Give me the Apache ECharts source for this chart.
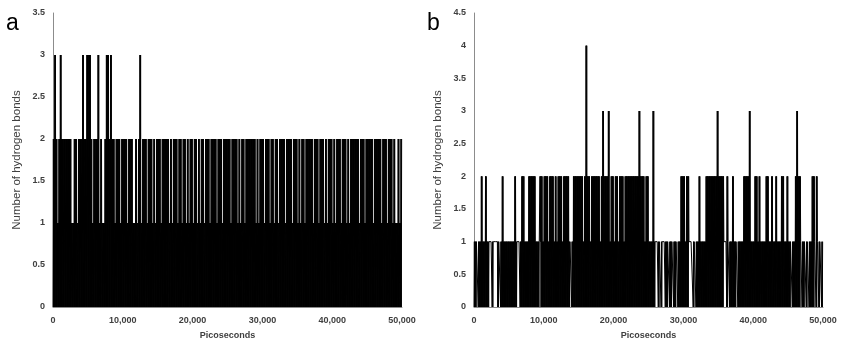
<!DOCTYPE html>
<html><head><meta charset="utf-8">
<script src="https://cdn.jsdelivr.net/npm/echarts@6/dist/echarts.min.js"></script>
<style>html,body{margin:0;padding:0;background:#fff}#c{width:844px;height:346px}</style>
</head><body><div id="c"></div>
<script>
// time resolution of each bin (ps); each bin holds the lowest and highest count seen in it
const binPs = 200;
const panelLetters = ['a', 'b'];
const xName = 'Picoseconds';
const yName = 'Number of hydrogen bonds';
const xMax = 50000, xStep = 10000;
const aYMax = 3.5, bYMax = 4.5, yStep = 0.5;

// Panel a: highest count per bin
const aHigh = [
2,3,2,1,2,3,2,2,2,2,2,2,2,1,1,2,2,1,2,2,2,3,2,2,3,
3,3,2,1,2,2,2,3,1,2,1,1,2,3,3,2,3,2,2,1,2,2,2,1,2,
2,2,2,1,2,2,2,1,1,2,1,2,3,1,2,2,2,1,2,2,2,1,2,1,2,
2,2,1,2,2,2,2,2,1,2,1,2,2,2,1,2,2,1,2,2,1,2,1,2,2,
1,2,2,1,2,1,2,2,1,2,2,2,1,2,2,2,2,1,2,2,2,1,2,2,2,
2,2,1,2,2,2,2,1,2,1,2,2,1,2,2,2,2,2,2,2,1,2,1,2,2,
2,1,2,2,2,1,2,2,1,2,2,1,2,2,2,2,1,2,2,2,2,1,2,2,2,
1,2,1,2,2,1,2,2,2,2,2,1,2,2,2,1,2,2,2,1,2,1,2,2,2,
1,2,1,2,2,2,1,2,2,2,1,2,1,2,2,2,2,2,2,1,2,2,2,1,2,
2,2,2,2,1,2,2,2,2,2,1,2,2,2,1,2,2,2,1,2,1,1,2,1,2
];
// Panel a: lowest count per bin
const aLow = [
0,0,0,0,0,0,0,0,0,0,0,0,0,0,0,0,0,0,0,0,0,0,0,0,0,
0,0,0,0,0,0,0,0,0,0,0,0,0,0,0,0,0,0,0,0,0,0,0,0,0,
0,0,0,0,0,0,0,0,0,0,0,0,0,0,0,0,0,0,0,0,0,0,0,0,0,
0,0,0,0,0,0,0,0,0,0,0,0,0,0,0,0,0,0,0,0,0,0,0,0,0,
0,0,0,0,0,0,0,0,0,0,0,0,0,0,0,0,0,0,0,0,0,0,0,0,0,
0,0,0,0,0,0,0,0,0,0,0,0,0,0,0,0,0,0,0,0,0,0,0,0,0,
0,0,0,0,0,0,0,0,0,0,0,0,0,0,0,0,0,0,0,0,0,0,0,0,0,
0,0,0,0,0,0,0,0,0,0,0,0,0,0,0,0,0,0,0,0,0,0,0,0,0,
0,0,0,0,0,0,0,0,0,0,0,0,0,0,0,0,0,0,0,0,0,0,0,0,0,
0,0,0,0,0,0,0,0,0,0,0,0,0,0,0,0,0,0,0,0,0,0,0,0,0
];
// Panel b: highest count per bin
const bHigh = [
1,1,1,1,1,2,1,1,2,1,1,1,1,1,1,1,1,1,1,1,2,1,1,1,1,
1,1,1,1,2,1,1,1,1,2,2,1,1,1,2,2,2,2,2,1,1,1,2,2,1,
2,2,2,1,2,2,2,1,2,1,2,2,2,1,2,2,2,2,1,1,1,2,2,2,2,
2,2,2,1,2,4,2,2,1,2,2,2,2,2,2,1,2,3,2,2,2,3,1,2,2,
1,2,2,1,2,2,2,1,2,2,2,2,2,2,2,2,2,2,3,2,2,2,1,2,2,
1,1,1,3,1,1,1,1,1,1,1,1,1,1,1,1,1,1,1,1,1,1,1,2,2,
2,1,2,2,1,1,1,1,1,1,1,2,1,1,1,1,2,2,2,2,2,2,2,2,3,
2,2,2,2,1,1,2,1,1,1,2,1,1,1,1,1,1,1,2,2,2,2,3,1,1,
1,2,2,1,2,1,1,1,1,2,2,1,1,2,1,1,2,1,1,1,2,2,1,1,2,
1,1,1,1,1,2,3,2,2,1,1,1,1,1,1,1,1,2,2,1,2,1,1,1,1
];
// Panel b: lowest count per bin
const bLow = [
0,0,1,0,0,0,0,0,0,0,0,1,1,0,1,1,1,0,1,0,0,0,0,0,0,
0,0,0,0,0,0,1,1,0,0,0,0,0,0,0,0,0,0,0,0,0,0,1,0,0,
0,0,0,0,0,0,0,0,0,0,0,0,0,0,0,0,0,0,0,1,0,0,0,0,0,
0,0,0,0,0,0,0,0,0,0,0,0,0,0,0,0,0,0,0,0,0,0,0,0,0,
0,0,0,0,0,0,0,0,0,0,0,0,0,0,0,0,0,0,0,0,0,0,0,0,0,
0,0,0,0,0,1,1,0,1,0,1,1,0,0,1,0,0,1,0,0,1,0,0,0,0,
0,0,0,0,1,1,1,0,1,0,0,0,0,0,0,0,0,0,0,0,0,0,0,0,0,
0,0,0,0,1,1,0,1,0,0,0,0,0,1,0,0,0,0,0,0,0,0,0,0,0,
0,0,0,0,0,0,0,0,0,0,0,0,0,0,0,0,0,0,0,0,0,0,0,0,0,
0,0,1,0,0,0,0,0,0,1,0,0,1,0,1,0,0,0,0,1,0,1,0,1,0
];

// the trace swings between the bin's lowest and highest count twice per bin
function trace(low, high) {
  const pts = [];
  const q = binPs / 4;
  for (let i = 0; i < high.length; i++) {
    const t = i * binPs;
    pts.push([t, low[i]], [t + q, high[i]], [t + 2 * q, low[i]], [t + 3 * q, high[i]]);
  }
  return pts;
}
function fmt(v) { return String(v).replace(/\B(?=(\d{3})+(?!\d))/g, ','); }

const FONT = 'Liberation Sans';
function xAxis(gi) {
  return {
    type: 'value', gridIndex: gi, min: 0, max: xMax, interval: xStep,
    name: xName, nameLocation: 'middle', nameGap: 24,
    nameTextStyle: { fontFamily: FONT, fontSize: 9, fontWeight: 'bold', color: '#404040' },
    axisLine: { show: true, lineStyle: { color: '#8c8c8c', width: 1 } },
    axisTick: { show: false }, splitLine: { show: false },
    axisLabel: { formatter: fmt, fontFamily: FONT, fontSize: 9, fontWeight: 'bold', color: '#404040', margin: 9 }
  };
}
function yAxis(gi, max) {
  return {
    type: 'value', gridIndex: gi, min: 0, max: max, interval: yStep,
    name: yName, nameLocation: 'middle', nameGap: 30, nameRotate: 90,
    nameTextStyle: { fontFamily: FONT, fontSize: 11.5, color: '#404040' },
    axisLine: { show: true, lineStyle: { color: '#8c8c8c', width: 1 } },
    axisTick: { show: false }, splitLine: { show: false },
    axisLabel: { fontFamily: FONT, fontSize: 9, fontWeight: 'bold', color: '#404040', margin: 8 }
  };
}
const lineStyle = { color: '#000', width: 1 };
const chart = echarts.init(document.getElementById('c'), null, { renderer: 'canvas' });
chart.setOption({
  animation: false,
  backgroundColor: '#fff',
  title: [
    { text: panelLetters[0], left: 1, top: 7, textStyle: { fontFamily: FONT, fontSize: 23, fontWeight: 'normal', color: '#000' } },
    { text: panelLetters[1], left: 422, top: 7, textStyle: { fontFamily: FONT, fontSize: 23, fontWeight: 'normal', color: '#000' } }
  ],
  grid: [
    { left: 53, right: 442, top: 13, bottom: 39 },
    { left: 474, right: 21, top: 13, bottom: 39 }
  ],
  xAxis: [xAxis(0), xAxis(1)],
  yAxis: [yAxis(0, aYMax), yAxis(1, bYMax)],
  series: [
    { type: 'line', xAxisIndex: 0, yAxisIndex: 0, data: trace(aLow, aHigh), showSymbol: false, symbol: 'none', lineStyle: lineStyle, sampling: null, progressive: 0, z: 1 },
    { type: 'line', xAxisIndex: 1, yAxisIndex: 1, data: trace(bLow, bHigh), showSymbol: false, symbol: 'none', lineStyle: lineStyle, sampling: null, progressive: 0, z: 1 }
  ]
});
</script></body></html>
